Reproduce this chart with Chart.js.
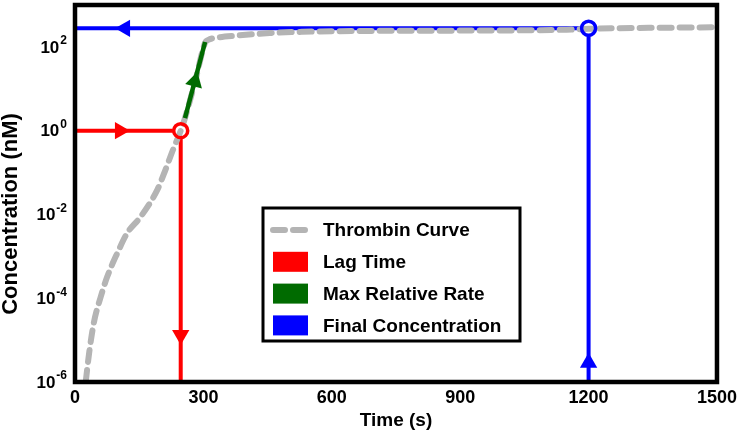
<!DOCTYPE html>
<html>
<head>
<meta charset="utf-8">
<title>Thrombin Generation</title>
<script src="https://cdn.jsdelivr.net/npm/chart.js@4.4.1/dist/chart.umd.min.js"></script>
<style>
    body { margin: 0; background: #fff; }
    .chart-box { width: 742px; height: 433px; }
</style>
</head>
<body>
<div class="chart-box"><canvas id="thrombin-chart" width="742" height="433"></canvas></div>
<script>
const timeTicks = [0, 300, 600, 900, 1200, 1500];
const concTicks = [1e-6, 1e-4, 1e-2, 1, 1e2];

const seriesLabels = ['Thrombin Curve', 'Lag Time', 'Max Relative Rate', 'Final Concentration'];

// thrombin curve (time in s, concentration in nM)
const curveTime = [25, 33, 44, 60, 75, 99, 122, 153, 192, 207, 229, 247, 257, 282, 304, 311, 332, 378, 455, 532, 672, 900, 1149, 1200, 1500];
const curveConc = [1e-6, 4.9e-6, 2.6e-5, 1.07e-4, 3.2e-4, 1.2e-3, 3.6e-3, 8.7e-3, 0.038, 0.089, 0.35, 1, 2.0, 17, 126, 146, 166, 186, 214, 229, 240, 245, 257, 270, 295];

const lagTime = 247;
const lagConc = 1;
const rateTime = [257, 304];
const rateConc = [2.0, 131];
const finalTime = 1200;
const finalConc = 278;

// arrow heads along the marker lines
const lagArrowTime = [105, 247];
const lagArrowConc = [1, 1.33e-5];
const rateArrowTime = [280];
const rateArrowConc = [15];
const finalArrowTime = [117, 1200];
const finalArrowConc = [278, 2.9e-6];

const FONT = '"Liberation Sans", Arial, sans-serif';
const RED = '#ff0000';
const GREEN = '#006b00';
const BLUE = '#0000ff';
const GREY = '#b4b4b4';

function toPoints(xs, ys) {
    return xs.map((x, i) => ({ x: x, y: ys[i] }));
}

const framePlugin = {
    id: 'frame',
    afterDatasetsDraw(chart) {
        const { ctx, chartArea } = chart;
        ctx.save();
        ctx.strokeStyle = '#000';
        ctx.lineWidth = 4.5;
        ctx.strokeRect(chartArea.left, chartArea.top, chartArea.right - chartArea.left, chartArea.bottom - chartArea.top);
        ctx.restore();
    }
};

// y tick labels as 10 with a raised exponent, plus the rotated axis title
const yLabelsPlugin = {
    id: 'yLabels',
    afterDraw(chart) {
        const { ctx } = chart;
        const yScale = chart.scales.y;
        ctx.save();
        ctx.fillStyle = '#000';
        concTicks.forEach((v) => {
            const y = yScale.getPixelForValue(v);
            const exp = String(Math.round(Math.log10(v)));
            ctx.font = `bold 12px ${FONT}`;
            const expWidth = ctx.measureText(exp).width;
            ctx.textAlign = 'right';
            ctx.textBaseline = 'middle';
            ctx.fillText(exp, 67, y - 6);
            ctx.font = `bold 17px ${FONT}`;
            ctx.fillText('10', 67 - expWidth - 1, y + 1);
        });

        ctx.translate(11, 214);
        ctx.rotate(-Math.PI / 2);
        ctx.font = `bold 22px ${FONT}`;
        ctx.textAlign = 'center';
        ctx.textBaseline = 'middle';
        ctx.fillText('Concentration (nM)', 0, 0);
        ctx.restore();
    }
};

const legendBoxPlugin = {
    id: 'legendBox',
    afterDraw(chart) {
        const { ctx } = chart;
        const colors = [GREY, RED, GREEN, BLUE];
        ctx.save();
        ctx.fillStyle = '#fff';
        ctx.fillRect(263, 208, 257, 133);
        ctx.strokeStyle = '#000';
        ctx.lineWidth = 3;
        ctx.strokeRect(263, 208, 257, 133);

        seriesLabels.forEach((label, i) => {
            const y = 230 + i * 31.8;
            if (i === 0) {
                ctx.strokeStyle = GREY;
                ctx.lineWidth = 6;
                ctx.lineCap = 'round';
                ctx.setLineDash([12, 8]);
                ctx.beginPath();
                ctx.moveTo(273, y);
                ctx.lineTo(306, y);
                ctx.stroke();
                ctx.setLineDash([]);
            } else {
                ctx.fillStyle = colors[i];
                ctx.fillRect(273, y - 10, 35, 20);
            }
            ctx.fillStyle = '#000';
            ctx.font = `bold 19px ${FONT}`;
            ctx.textAlign = 'left';
            ctx.textBaseline = 'middle';
            ctx.fillText(label, 323, y + 1);
        });
        ctx.restore();
    }
};

const ctx = document.getElementById('thrombin-chart').getContext('2d');
new Chart(ctx, {
    type: 'scatter',
    data: {
        datasets: [
            {
                label: 'arrows',
                data: [
                    ...toPoints(lagArrowTime, lagArrowConc),
                    ...toPoints(rateArrowTime, rateArrowConc),
                    ...toPoints(finalArrowTime, finalArrowConc)
                ],
                pointStyle: 'triangle',
                pointRadius: 10,
                pointBorderWidth: 0,
                pointRotation: [90, 180, 15, 270, 0],
                pointBackgroundColor: [RED, RED, GREEN, BLUE, BLUE],
                order: 0
            },
            {
                label: seriesLabels[2],
                data: toPoints(rateTime, rateConc),
                showLine: true,
                borderColor: GREEN,
                borderWidth: 4.5,
                pointRadius: 0,
                order: 1
            },
            {
                label: 'rings',
                data: [{ x: lagTime, y: lagConc }, { x: finalTime, y: finalConc }],
                pointStyle: 'circle',
                pointRadius: 7,
                pointBorderWidth: 3.5,
                pointBorderColor: [RED, BLUE],
                pointBackgroundColor: 'rgba(0,0,0,0)',
                order: 2
            },
            {
                label: seriesLabels[0],
                data: toPoints(curveTime, curveConc),
                showLine: true,
                borderColor: GREY,
                borderWidth: 6,
                borderDash: [12, 8],
                borderCapStyle: 'round',
                cubicInterpolationMode: 'monotone',
                pointRadius: 0,
                order: 3
            },
            {
                label: 'discs',
                data: [{ x: lagTime, y: lagConc }, { x: finalTime, y: finalConc }],
                pointStyle: 'circle',
                pointRadius: 8,
                pointBorderWidth: 0,
                pointBackgroundColor: '#fff',
                order: 4
            },
            {
                label: seriesLabels[1],
                data: [{ x: 0, y: lagConc }, { x: lagTime, y: lagConc }, { x: lagTime, y: concTicks[0] }],
                showLine: true,
                borderColor: RED,
                borderWidth: 4,
                pointRadius: 0,
                order: 5
            },
            {
                label: seriesLabels[3],
                data: [{ x: 0, y: finalConc }, { x: finalTime, y: finalConc }, { x: finalTime, y: concTicks[0] }],
                showLine: true,
                borderColor: BLUE,
                borderWidth: 4,
                pointRadius: 0,
                order: 5
            }
        ]
    },
    options: {
        responsive: false,
        animation: false,
        devicePixelRatio: 1,
        layout: {
            autoPadding: false,
            padding: { top: 5, right: 24, left: 0, bottom: 0 }
        },
        plugins: {
            legend: { display: false },
            tooltip: { enabled: false }
        },
        scales: {
            x: {
                type: 'linear',
                min: 0,
                max: 1500,
                afterBuildTicks: (scale) => {
                    scale.ticks = timeTicks.map((v) => ({ value: v }));
                },
                afterFit: (scale) => {
                    scale.height = 51;
                },
                grid: { display: false, drawTicks: false },
                border: { display: false },
                ticks: {
                    color: '#000',
                    padding: 5,
                    maxRotation: 0,
                    autoSkip: false,
                    callback: (value) => String(value),
                    font: { family: FONT, size: 18, weight: 'bold' }
                },
                title: {
                    display: true,
                    text: 'Time (s)',
                    color: '#000',
                    padding: { top: 0, bottom: 1 },
                    font: { family: FONT, size: 19, weight: 'bold' }
                }
            },
            y: {
                type: 'logarithmic',
                min: 1e-6,
                max: 1e3,
                afterBuildTicks: (scale) => {
                    scale.ticks = concTicks.map((v) => ({ value: v }));
                },
                afterFit: (scale) => {
                    scale.width = 75;
                },
                grid: { display: false, drawTicks: false },
                border: { display: false },
                ticks: { display: false },
                title: { display: false }
            }
        }
    },
    plugins: [framePlugin, yLabelsPlugin, legendBoxPlugin]
});
</script>
</body>
</html>
